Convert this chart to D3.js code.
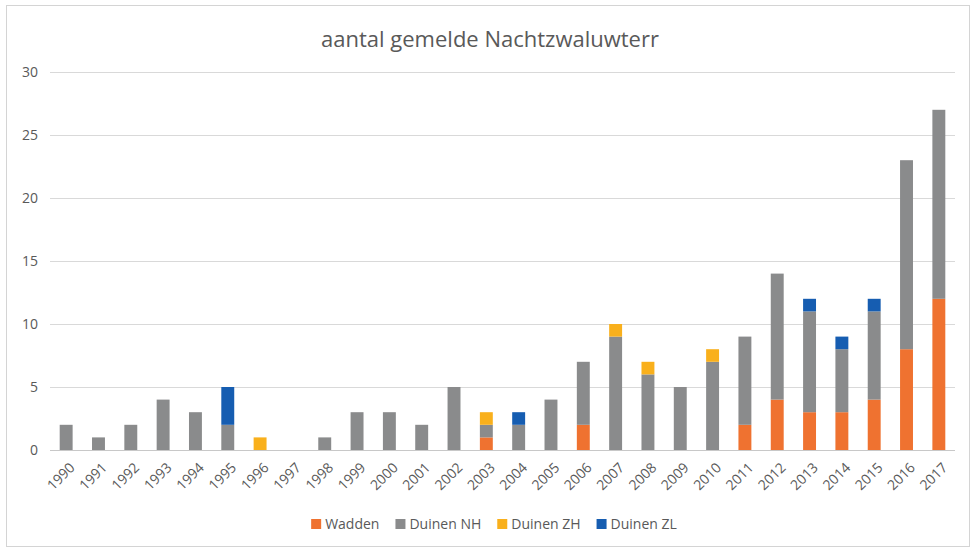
<!DOCTYPE html>
<html>
<head>
<meta charset="utf-8">
<script src="https://cdn.jsdelivr.net/npm/d3@7"></script>
<style>
  body { margin: 0; background: #fff; }
  text { font-family: "Open Sans", "Liberation Sans", sans-serif; fill: #595959; }
</style>
</head>
<body>
<svg id="chart" width="972" height="549"></svg>
<script>
const years = ["1990","1991","1992","1993","1994","1995","1996","1997","1998","1999",
  "2000","2001","2002","2003","2004","2005","2006","2007","2008","2009",
  "2010","2011","2012","2013","2014","2015","2016","2017"];
const seriesNames = ["Wadden", "Duinen NH", "Duinen ZH", "Duinen ZL"];
const wadden   = [0,0,0,0,0,0,0,0,0,0, 0,0,0,1,0,0,2,0,0,0, 0,2,4,3,3,4,8,12];
const duinenNH = [2,1,2,4,3,2,0,0,1,3, 3,2,5,1,2,4,5,9,6,5, 7,7,10,8,5,7,15,15];
const duinenZH = [0,0,0,0,0,0,1,0,0,0, 0,0,0,1,0,0,0,1,1,0, 1,0,0,0,0,0,0,0];
const duinenZL = [0,0,0,0,0,3,0,0,0,0, 0,0,0,0,1,0,0,0,0,0, 0,0,0,1,1,1,0,0];
const yTicks = [0, 5, 10, 15, 20, 25, 30];
const colors = ["#ef7230", "#8a8b8c", "#f9b01c", "#165db1"];

const svg = d3.select("#chart");
const margin = {left: 50, right: 17, top: 72, bottom: 99};
const width = 972, height = 549;

// frame
svg.append("rect")
  .attr("x", 6.5).attr("y", 5.5)
  .attr("width", 963).attr("height", 541)
  .attr("fill", "none")
  .attr("stroke", "#d4d4d4");

const rows = years.map((y, i) => ({
  year: y,
  "Wadden": wadden[i],
  "Duinen NH": duinenNH[i],
  "Duinen ZH": duinenZH[i],
  "Duinen ZL": duinenZL[i]
}));

const x = d3.scaleBand()
  .domain(years)
  .range([margin.left, width - margin.right])
  .paddingInner(0.6)
  .paddingOuter(0.3);

const y = d3.scaleLinear()
  .domain([0, 30])
  .range([height - margin.bottom, margin.top]);

// gridlines
svg.append("g")
  .selectAll("line")
  .data(yTicks)
  .join("line")
  .attr("x1", margin.left)
  .attr("x2", width - margin.right)
  .attr("y1", d => Math.round(y(d)) + 0.5)
  .attr("y2", d => Math.round(y(d)) + 0.5)
  .attr("stroke", d => d === 0 ? "#c8c8c8" : "#d9d9d9")
  .attr("stroke-width", 1);

// y labels
svg.append("g")
  .selectAll("text")
  .data(yTicks)
  .join("text")
  .attr("x", 38)
  .attr("y", d => y(d))
  .attr("dy", "0.35em")
  .attr("text-anchor", "end")
  .attr("font-size", "14px")
  .text(d => d);

// stacked bars
const stack = d3.stack().keys(seriesNames);
const stacked = stack(rows);

svg.append("g")
  .selectAll("g")
  .data(stacked)
  .join("g")
  .attr("fill", (d, i) => colors[i])
  .selectAll("rect")
  .data(d => d.filter(s => s[1] - s[0] > 0))
  .join("rect")
  .attr("x", d => x(d.data.year))
  .attr("width", x.bandwidth())
  .attr("y", d => y(d[1]))
  .attr("height", d => y(d[0]) - y(d[1]));

// x labels
svg.append("g")
  .selectAll("text")
  .data(years)
  .join("text")
  .attr("transform", d => `translate(${x(d) + x.bandwidth() / 2 + 6}, 465) rotate(-45)`)
  .attr("text-anchor", "end")
  .attr("dy", "0.35em")
  .attr("font-size", "14px")
  .text(d => d);

// title
svg.append("text")
  .attr("x", 490)
  .attr("y", 47)
  .attr("text-anchor", "middle")
  .attr("font-size", "22px")
  .attr("fill", "#595959")
  .text("aantal gemelde Nachtzwaluwterr");

// legend
const legend = svg.append("g");
let lx = 0;
seriesNames.forEach((name, i) => {
  const item = legend.append("g").attr("transform", `translate(${lx}, 0)`);
  item.append("rect")
    .attr("x", 0).attr("y", -5)
    .attr("width", 10).attr("height", 10)
    .attr("fill", colors[i]);
  const t = item.append("text")
    .attr("x", 14)
    .attr("y", 0)
    .attr("dy", "0.35em")
    .attr("font-size", "14px")
    .text(name);
  lx += 14 + t.node().getComputedTextLength() + 16;
});
const legendW = lx - 16;
legend.attr("transform", `translate(${494 - legendW / 2}, 524)`);
</script>
</body>
</html>
